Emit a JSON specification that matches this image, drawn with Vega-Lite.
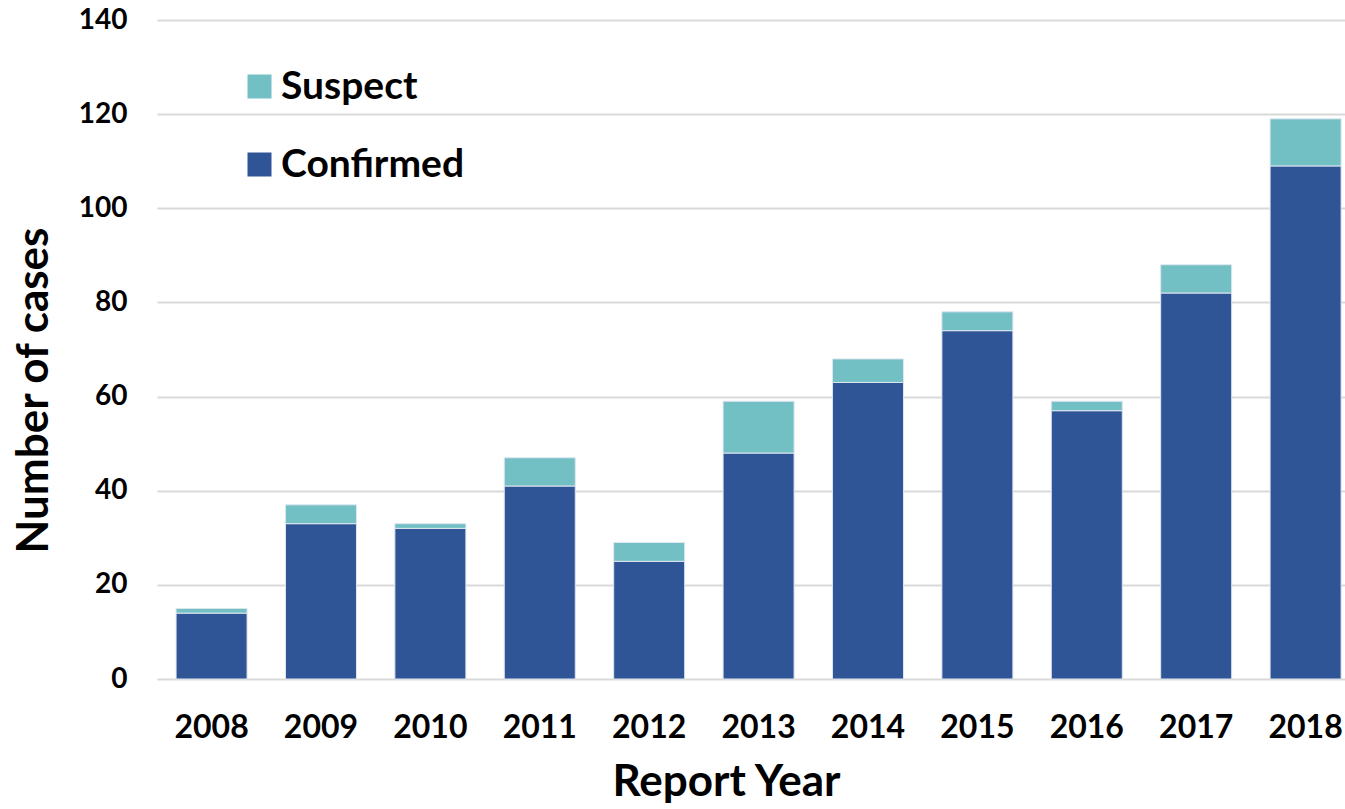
{
  "$schema": "https://vega.github.io/schema/vega-lite/v6.json",
  "autosize": {"type": "none"},
  "width": 1188,
  "height": 659,
  "padding": {"left": 157, "top": 20, "right": 0, "bottom": 130},
  "background": "white",
  "data": {
    "values": [
      {"year": "2008", "status": "Confirmed", "cases": 14},
      {"year": "2008", "status": "Suspect", "cases": 1},
      {"year": "2009", "status": "Confirmed", "cases": 33},
      {"year": "2009", "status": "Suspect", "cases": 4},
      {"year": "2010", "status": "Confirmed", "cases": 32},
      {"year": "2010", "status": "Suspect", "cases": 1},
      {"year": "2011", "status": "Confirmed", "cases": 41},
      {"year": "2011", "status": "Suspect", "cases": 6},
      {"year": "2012", "status": "Confirmed", "cases": 25},
      {"year": "2012", "status": "Suspect", "cases": 4},
      {"year": "2013", "status": "Confirmed", "cases": 48},
      {"year": "2013", "status": "Suspect", "cases": 11},
      {"year": "2014", "status": "Confirmed", "cases": 63},
      {"year": "2014", "status": "Suspect", "cases": 5},
      {"year": "2015", "status": "Confirmed", "cases": 74},
      {"year": "2015", "status": "Suspect", "cases": 4},
      {"year": "2016", "status": "Confirmed", "cases": 57},
      {"year": "2016", "status": "Suspect", "cases": 2},
      {"year": "2017", "status": "Confirmed", "cases": 82},
      {"year": "2017", "status": "Suspect", "cases": 6},
      {"year": "2018", "status": "Confirmed", "cases": 109},
      {"year": "2018", "status": "Suspect", "cases": 10}
    ]
  },
  "mark": {"type": "bar", "stroke": "#dfe6f0", "strokeWidth": 1},
  "encoding": {
    "x": {
      "field": "year",
      "type": "ordinal",
      "scale": {"paddingInner": 0.351, "paddingOuter": 0.105, "align": 0.83},
      "axis": {
        "title": "Report Year",
        "titleFont": "Lato",
        "titleFontSize": 44,
        "titleFontWeight": "bold",
        "titleColor": "#000000",
        "titleX": 569,
        "titleY": 103,
        "titleAnchor": null,
        "titleAlign": "center",
        "titleBaseline": "middle",
        "labelAngle": 0,
        "labelFont": "Lato",
        "labelFontSize": 32,
        "labelFontWeight": "bold",
        "labelColor": "#000000",
        "labelBaseline": "middle",
        "labelPadding": 48,
        "ticks": false,
        "tickSize": 0,
        "domain": false
      }
    },
    "y": {
      "field": "cases",
      "type": "quantitative",
      "stack": "zero",
      "scale": {"domain": [0, 140], "nice": false},
      "axis": {
        "values": [0, 20, 40, 60, 80, 100, 120, 140],
        "title": "Number of cases",
        "titleFont": "Lato",
        "titleFontSize": 44,
        "titleFontWeight": "bold",
        "titleColor": "#000000",
        "titleAngle": -90,
        "titleX": -123,
        "titleY": 370,
        "titleAnchor": null,
        "titleAlign": "center",
        "titleBaseline": "middle",
        "labelFont": "Lato",
        "labelFontSize": 28,
        "labelFontWeight": "bold",
        "labelColor": "#000000",
        "labelPadding": 30,
        "ticks": false,
        "tickSize": 0,
        "domain": false,
        "grid": true,
        "gridColor": "#d9d9d9",
        "gridWidth": 2
      }
    },
    "color": {
      "field": "status",
      "type": "nominal",
      "scale": {"domain": ["Suspect", "Confirmed"], "range": ["#72bfc4", "#2f5597"]},
      "legend": {
        "title": null,
        "orient": "none",
        "legendX": 83,
        "legendY": 47,
        "symbolType": "square",
        "symbolSize": 576,
        "symbolStrokeWidth": 0,
        "symbolOpacity": 1,
        "labelFont": "Lato",
        "labelFontSize": 39,
        "labelFontWeight": "bold",
        "labelColor": "#000000",
        "labelOffset": 2,
        "labelLimit": 500,
        "rowPadding": 38
      }
    },
    "order": {"field": "status", "sort": "ascending"}
  },
  "config": {"view": {"stroke": null}}
}
